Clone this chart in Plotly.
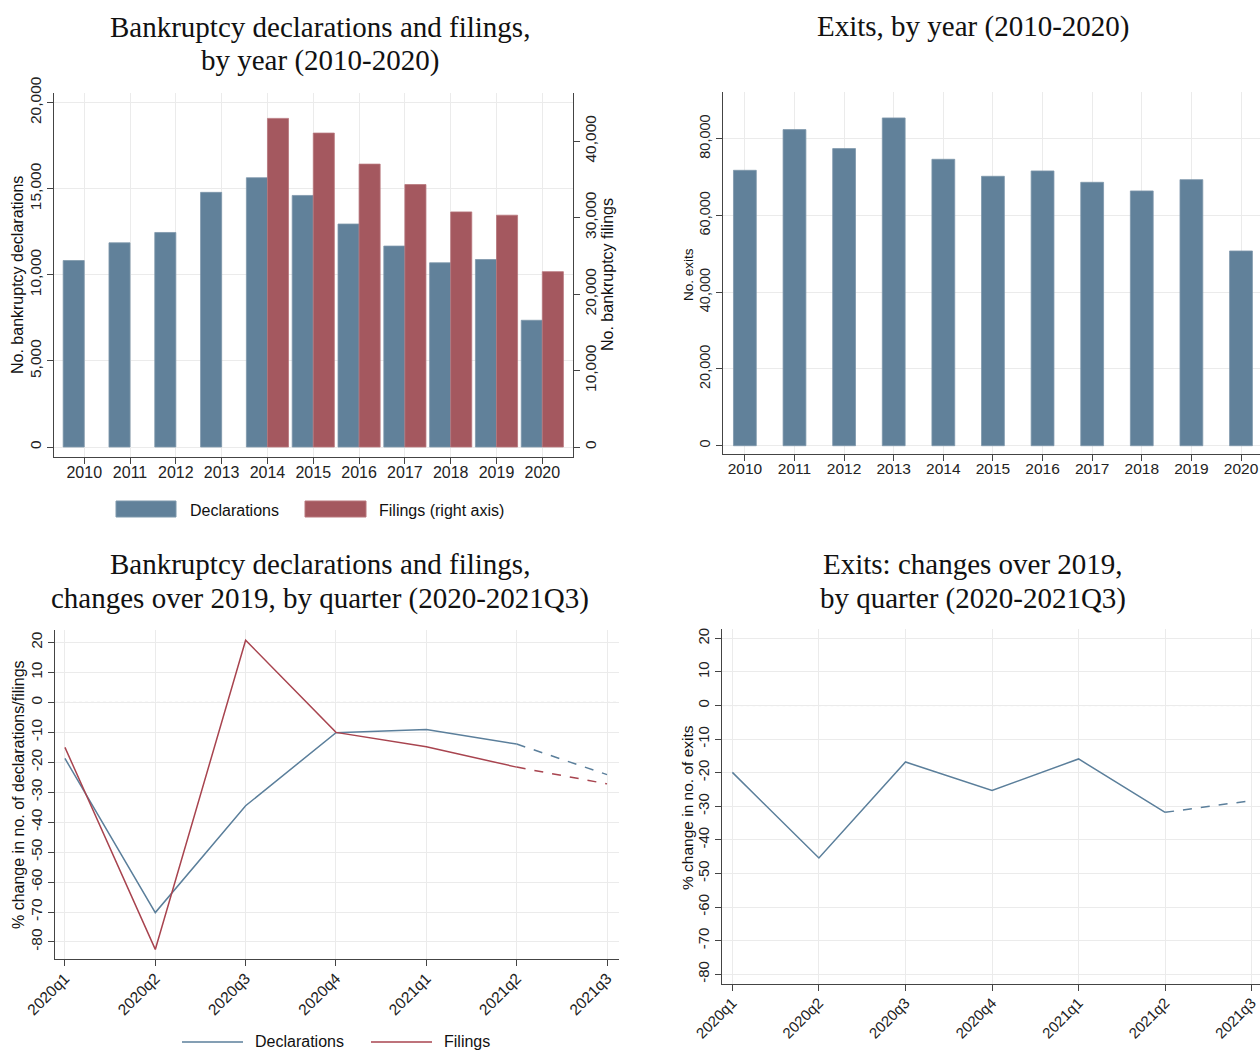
import plotly.graph_objects as go

# ---- data -------------------------------------------------------------
years = list(range(2010, 2021))
declarations = [10830, 11860, 12460, 14790, 15640, 14610, 12950, 11670, 10700, 10890, 7360]
filing_years = list(range(2014, 2021))
filings = [42970, 41050, 36990, 34320, 30740, 30310, 22930]
exits = [71760, 82360, 77410, 85400, 74630, 70200, 71590, 68630, 66380, 69330, 50740]

quarters = ["2020q1", "2020q2", "2020q3", "2020q4", "2021q1", "2021q2", "2021q3"]
decl_change = [-18.7, -70.2, -34.5, -10.1, -9.0, -13.9, -24.1]
filing_change = [-15.0, -82.5, 20.8, -10.0, -14.8, -21.6, -27.2]
exit_change = [-19.9, -45.4, -16.8, -25.3, -15.9, -31.8, -28.3]

pct_ticks = [-80, -70, -60, -50, -40, -30, -20, -10, 0, 10, 20]
pct_labels = ["-80", "-70", "-60", "-50", "-40", "-30", "-20", "-10", "0", "10", "20"]

# ---- styling ------------------------------------------------------------
W, H = 1260, 1051
BLUE = "#61819a"
RED = "#a4585f"
LBLUE = "#5b7f9b"
LRED = "#a8444f"
GRID = "#ebebeb"
AXIS = "#444444"
TXT = "#222222"
SANS = "Liberation Sans, Arial, sans-serif"
SERIF = "Liberation Serif, Times New Roman, serif"


def px(x):
    return x / W


def py(y):
    return 1 - y / H


fig = go.Figure()

# Top left: declarations (left axis) and filings (right axis)
fig.add_trace(go.Bar(x=years, y=declarations, xaxis="x", yaxis="y", width=0.46, offset=-0.46,
                     marker=dict(color=BLUE, line=dict(color="#7d97ab", width=0.8)), name="Declarations"))
fig.add_trace(go.Bar(x=filing_years, y=filings, xaxis="x", yaxis="y2", width=0.46, offset=0,
                     marker=dict(color=RED, line=dict(color="#b8767c", width=0.8)), name="Filings (right axis)"))

# Top right: exits
fig.add_trace(go.Bar(x=years, y=exits, xaxis="x2", yaxis="y3", width=0.46,
                     marker=dict(color=BLUE, line=dict(color="#7d97ab", width=0.8)), name="Exits"))

# Bottom left: quarterly changes, last quarter dashed
for vals, col in ((decl_change, LBLUE), (filing_change, LRED)):
    fig.add_trace(go.Scatter(x=quarters[:6], y=vals[:6], xaxis="x3", yaxis="y4", mode="lines",
                             line=dict(color=col, width=1.5)))
    fig.add_trace(go.Scatter(x=quarters[5:], y=vals[5:], xaxis="x3", yaxis="y4", mode="lines",
                             line=dict(color=col, width=1.5, dash="dash")))

# Bottom right: exits change
fig.add_trace(go.Scatter(x=quarters[:6], y=exit_change[:6], xaxis="x4", yaxis="y5", mode="lines",
                         line=dict(color=LBLUE, width=1.5)))
fig.add_trace(go.Scatter(x=quarters[5:], y=exit_change[5:], xaxis="x4", yaxis="y5", mode="lines",
                         line=dict(color=LBLUE, width=1.5, dash="dash")))

common_x = dict(showline=True, linecolor=AXIS, linewidth=1, ticks="outside", ticklen=6,
                tickcolor=AXIS, showgrid=True, gridcolor=GRID, gridwidth=1, zeroline=False,
                automargin=False, ticklabeloverflow="allow",
                tickfont=dict(family=SANS, size=16, color=TXT))
common_y = dict(showline=True, linecolor=AXIS, linewidth=1, ticks="outside", ticklen=6,
                tickcolor=AXIS, showgrid=True, gridcolor=GRID, gridwidth=1, zeroline=False,
                automargin=False, ticklabeloverflow="allow",
                tickangle=-90, tickfont=dict(family=SANS, size=15.5, color=TXT))

fig.update_layout(
    template="none",
    width=W, height=H,
    margin=dict(l=0, r=0, t=0, b=0, pad=0, autoexpand=False),
    paper_bgcolor="white", plot_bgcolor="white",
    showlegend=False, barmode="overlay",
    font=dict(family=SANS, color=TXT),
    xaxis=dict(common_x, domain=[px(54), px(573)], anchor="y", range=[2009.34, 2020.67],
               tickvals=years, ticktext=[str(y) for y in years], ticklabelstandoff=-5),
    yaxis=dict(common_y, domain=[py(457), py(93)], anchor="x", range=[-580, 20560],
               tickvals=[0, 5000, 10000, 15000, 20000], tickformat=","),
    yaxis2=dict(common_y, overlaying="y", side="right", anchor="x", range=[-1306, 46290],
                tickvals=[0, 10000, 20000, 30000, 40000], tickformat=",", showgrid=False,
                ticklabelstandoff=-3),
    xaxis2=dict(common_x, domain=[px(723), 1.0], anchor="y3", range=[2009.559, 2020.383],
                tickvals=years, ticktext=[str(y) for y in years], ticklabelstandoff=-6,
                tickfont=dict(family=SANS, size=15.5, color=TXT)),
    yaxis3=dict(common_y, domain=[py(454), py(91.7)], anchor="x2", range=[-2160, 92240],
                tickvals=[0, 20000, 40000, 60000, 80000], tickformat=",",
                tickfont=dict(family=SANS, size=14.5, color=TXT)),
    xaxis3=dict(common_x, domain=[px(55), px(618.5)], anchor="y4", type="category",
                range=[-0.11, 6.127], tickangle=-45, ticklabelstandoff=-3,
                tickfont=dict(family=SANS, size=15.5, color=TXT)),
    yaxis4=dict(common_y, domain=[py(959.3), py(630)], anchor="x3", range=[-85.8, 24.2],
                tickvals=pct_ticks, ticktext=pct_labels),
    xaxis4=dict(common_x, domain=[px(722.4), 1.0], anchor="y5", type="category",
                range=[-0.115, 6.096], tickangle=-45, ticklabelstandoff=-3,
                tickfont=dict(family=SANS, size=15, color=TXT)),
    yaxis5=dict(common_y, domain=[py(984.3), py(629.3)], anchor="x4", range=[-83, 22.7],
                tickvals=pct_ticks, ticktext=pct_labels,
                tickfont=dict(family=SANS, size=15, color=TXT)),
)

# dotted reference lines at zero
for xr, yr in (("x3 domain", "y4"), ("x4 domain", "y5")):
    fig.add_shape(type="line", xref=xr, yref=yr, x0=0, x1=1, y0=0, y1=0,
                  line=dict(color="#888888", width=1, dash="dot"), layer="below")

# legend swatches
fig.add_shape(type="rect", xref="paper", yref="paper", x0=px(116), x1=px(176), y0=py(517), y1=py(501),
              fillcolor=BLUE, line=dict(color="#7d97ab", width=1))
fig.add_shape(type="rect", xref="paper", yref="paper", x0=px(305), x1=px(366), y0=py(517), y1=py(501),
              fillcolor=RED, line=dict(color="#b8767c", width=1))
fig.add_shape(type="line", xref="paper", yref="paper", x0=px(182), x1=px(243), y0=py(1042), y1=py(1042),
              line=dict(color=LBLUE, width=1.5))
fig.add_shape(type="line", xref="paper", yref="paper", x0=px(371), x1=px(432), y0=py(1042), y1=py(1042),
              line=dict(color=LRED, width=1.5))


def text(x, y, s, size=16, family=SANS, xanchor="center", angle=0):
    fig.add_annotation(x=px(x), y=py(y), xref="paper", yref="paper", text=s, showarrow=False,
                       xanchor=xanchor, yanchor="middle", textangle=angle,
                       font=dict(family=family, size=size, color="#111111"))


# chart titles
text(320, 27, "Bankruptcy declarations and filings,", 29, SERIF)
text(320, 60, "by year (2010-2020)", 29, SERIF)
text(973, 27, "Exits, by year (2010-2020)", 29, SERIF)
text(320, 564, "Bankruptcy declarations and filings,", 29, SERIF)
text(320, 598, "changes over 2019, by quarter (2020-2021Q3)", 29, SERIF)
text(973, 564, "Exits: changes over 2019,", 29, SERIF)
text(973, 598, "by quarter (2020-2021Q3)", 29, SERIF)

# axis titles
text(17, 275, "No. bankruptcy declarations", 16, angle=-90)
text(607, 275, "No. bankruptcy filings", 16, angle=-90)
text(688, 274, "No. exits", 13.5, angle=-90)
text(18, 795, "% change in no. of declarations/filings", 16, angle=-90)
text(687, 807, "% change in no. of exits", 15.5, angle=-90)

# legend labels
text(188, 510, "Declarations", 16, xanchor="left")
text(377, 510, "Filings (right axis)", 16, xanchor="left")
text(253, 1041, "Declarations", 16, xanchor="left")
text(442, 1041, "Filings", 16, xanchor="left")

fig.write_html("out.html")
